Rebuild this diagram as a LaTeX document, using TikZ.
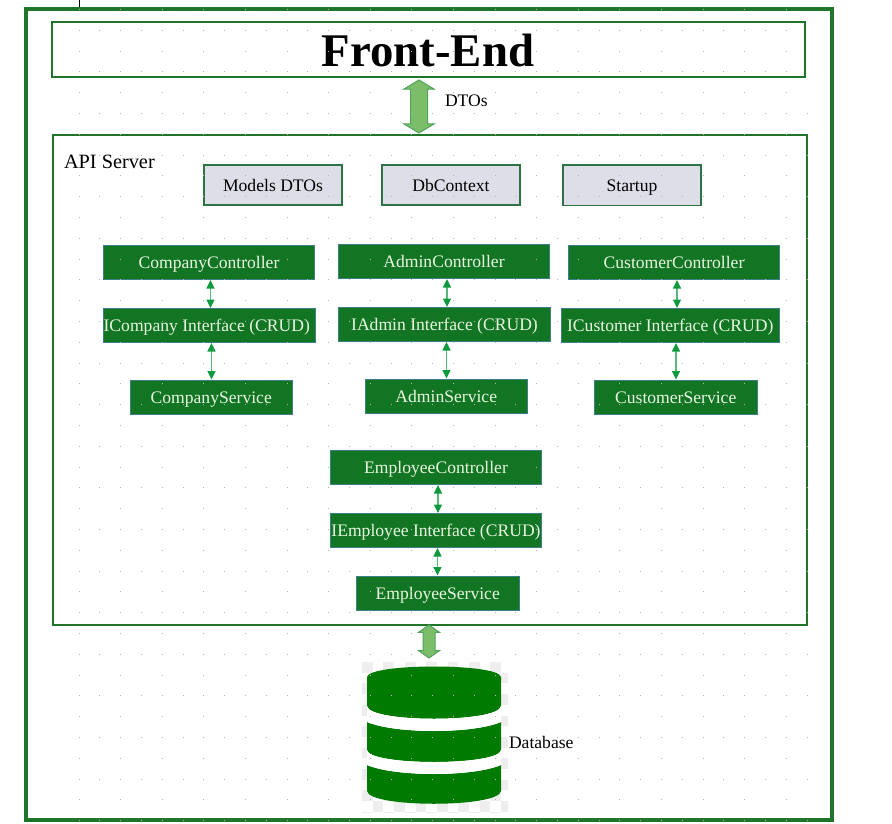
\documentclass[tikz,border=0pt]{standalone}
\usepackage{fontspec}
\setmainfont{Liberation Serif}
\usetikzlibrary{shapes.arrows,arrows.meta}
\definecolor{framegreen}{HTML}{1F7529}
\definecolor{boxgreen}{HTML}{127524}
\definecolor{boxedge}{HTML}{3F7F86}
\definecolor{lighttext}{HTML}{E9F7DF}
\definecolor{greyfill}{HTML}{DEDEE8}
\definecolor{greyedge}{HTML}{2E7346}
\definecolor{linkgreen}{HTML}{109A3E}
\definecolor{fatfill}{HTML}{7CBD69}
\definecolor{fatedge}{HTML}{4FA35C}
\definecolor{dbgreen}{HTML}{007A00}
\definecolor{checkgrey}{HTML}{EEEEEE}
\definecolor{griddot}{HTML}{B4B4B4}
\tikzset{
  x=1pt,y=-1pt,
  every node/.style={inner sep=0pt,outer sep=0pt,font=\fontsize{17.6}{20}\selectfont},
  frame/.style={draw=framegreen,fill=none},
  labelbox/.style={text height=14pt,text depth=2pt},
  greenbox/.style={labelbox,draw=boxedge,line width=1pt,fill=boxgreen,text=lighttext},
  greybox/.style={labelbox,draw=greyedge,line width=1.8pt,fill=greyfill,text=black},
  link/.style={draw=linkgreen!70,line width=1.4pt,{Triangle[length=8.5pt,width=8pt,color=linkgreen]}-{Triangle[length=8.5pt,width=8pt,color=linkgreen]},shorten >=.5pt,shorten <=.5pt},
  fatarrow/.style={shape=double arrow,draw=fatedge,line width=1pt,fill=fatfill,rotate=90},
}
\newcommand{\bx}[7]{%
  \pgfmathsetmacro{\cxx}{(#3+#5)/2}\pgfmathsetmacro{\cyy}{(#4+#6)/2}%
  \pgfmathsetmacro{\www}{#5-#3}\pgfmathsetmacro{\hhh}{#6-#4}%
  \node[#2,minimum width=\www pt,minimum height=\hhh pt,anchor=center] (#1) at (\cxx,\cyy) {#7};}
\begin{document}
\begin{tikzpicture}
\useasboundingbox (0,0) rectangle (892,824);
\fill[white] (0,0) rectangle (892,824);
\draw[black,line width=1pt] (79,0) -- (79,7);
% frames
\bx{outer}{frame,line width=4pt}{26}{9}{832}{820}{}
\bx{front}{frame,line width=2pt}{52}{22}{805}{77}{}
\node[font=\bfseries\fontsize{46.8}{50}\selectfont] (fronttext) at (428,50) {Front-End};
\bx{api}{frame,line width=2pt}{53}{135}{807}{625}{}
\node[anchor=west,font=\fontsize{20.3}{24}\selectfont] (apilabel) at (64,161.5) {API Server};
% top boxes
\bx{models}{greybox}{204}{165}{342}{205}{Models DTOs}
\bx{dbctx}{greybox}{382}{165}{520}{205}{DbContext}
\bx{startup}{greybox}{563}{165}{701}{205.5}{Startup}
% company
\bx{cc}{greenbox}{103.5}{245.5}{314.5}{279.5}{CompanyController}
\bx{ci}{greenbox}{103.5}{308.5}{315}{342.5}{ICompany Interface (CRUD)\kern 5pt}
\bx{cs}{greenbox}{130}{380}{292.5}{414}{CompanyService}
% admin
\bx{ac}{greenbox}{338.5}{244.5}{549.5}{278.5}{AdminController}
\bx{ai}{greenbox}{338.5}{307.5}{550.5}{341.5}{IAdmin Interface (CRUD)}
\bx{as}{greenbox}{365}{379}{527.5}{413}{AdminService}
% customer
\bx{uc}{greenbox}{568.5}{245.5}{779.5}{279.5}{CustomerController}
\bx{ui}{greenbox}{561}{308.5}{779.5}{342.5}{ICustomer Interface (CRUD)}
\bx{us}{greenbox}{594.5}{380}{757}{414}{CustomerService}
% employee
\bx{ec}{greenbox}{330.5}{450.5}{541.5}{484.5}{EmployeeController}
\bx{ei}{greenbox}{330.5}{513.5}{541.5}{547.5}{IEmployee Interface (CRUD)}
\bx{es}{greenbox}{356.5}{576}{519}{610}{EmployeeService}
% links
\draw[link] (cc.south -| 210.5,0) -- (ci.north -| 210.5,0);
\draw[link] (ci.south -| 211.5,0) -- (cs.north -| 211.5,0);
\draw[link] (ac.south -| 447,0) -- (ai.north -| 447,0);
\draw[link] (ai.south -| 446.5,0) -- (as.north -| 446.5,0);
\draw[link] (uc.south -| 677,0) -- (ui.north -| 677,0);
\draw[link] (ui.south -| 676,0) -- (us.north -| 676,0);
\draw[link] (ec.south -| 438,0) -- (ei.north -| 438,0);
\draw[link] (ei.south -| 437.5,0) -- (es.north -| 437.5,0);
% fat arrows
\node[fatarrow,inner ysep=8pt,minimum height=53pt,double arrow head extend=6.5pt,double arrow tip angle=118] (fat1) at (419,106.5) {};
\node[anchor=west] (dtos) at (445,101) {DTOs};
\node[fatarrow,inner ysep=5.5pt,minimum height=33pt,double arrow head extend=4.5pt,double arrow tip angle=110] (fat2) at (429,641.5) {};
% database backdrop
\begin{scope}
\clip (362,662) rectangle (508,812);
\foreach \i in {0,...,13}{\foreach \j in {0,...,14}{%
  \pgfmathparse{int(mod(\i+\j,2))}%
  \ifnum\pgfmathresult=0 \fill[checkgrey] ({362+\i*10.7},{662+\j*10.7}) rectangle ++(10.7,10.7);\fi}}
\end{scope}
% database
\fill[dbgreen] (367,677) .. controls (369,663) and (499,663) .. (501,677) -- (501,706) .. controls (499,723) and (369,723) .. (367,706) -- cycle;
\fill[dbgreen] (367,722) .. controls (395,734) and (473,734) .. (501,722) -- (501,750) .. controls (499,766) and (369,766) .. (367,750) -- cycle;
\fill[dbgreen] (367,765) .. controls (395,777) and (473,777) .. (501,765) -- (501,791) .. controls (499,808) and (369,808) .. (367,791) -- cycle;
\fill[white] (367,706) .. controls (369,723) and (499,723) .. (501,706) -- (501,722) .. controls (473,734) and (395,734) .. (367,722) -- cycle;
\fill[white] (367,750) .. controls (369,766) and (499,766) .. (501,750) -- (501,765) .. controls (473,777) and (395,777) .. (367,765) -- cycle;
\node[anchor=west] (dblabel) at (509,742) {Database};
% background grid: odd rows full, even rows every second dot
\foreach \i in {0,...,35}{\foreach \j in {0,...,39}{%
  \pgfmathparse{(mod(\j,2)==1 || mod(\i,2)==0) && (\i<35 || \j>4) ? 1 : 0}%
  \ifnum\pgfmathresult>0\relax
    \fill[griddot] ({78.5+\i*20.8},{9+\j*20.8}) rectangle ++(1,1);\fi}}
\end{tikzpicture}
\end{document}
